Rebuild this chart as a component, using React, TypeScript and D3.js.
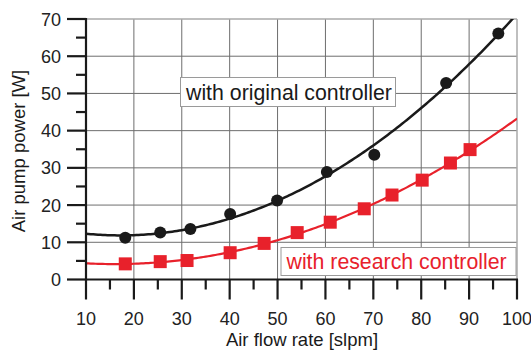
import React from "react";
import * as d3 from "d3";

const origX = [18.2, 25.5, 31.8, 40.1, 49.9, 60.3, 70.2, 85.2, 96.1];
const origY = [11.2, 12.6, 13.6, 17.6, 21.2, 28.9, 33.5, 52.8, 66.1];
const resX = [18.2, 25.5, 31.1, 40.1, 47.2, 54.1, 61.0, 68.1, 73.9, 80.2, 86.1, 90.2];
const resY = [4.2, 4.8, 5.1, 7.2, 9.7, 12.6, 15.4, 19.0, 22.7, 26.7, 31.3, 34.9];
const xTicks = [10, 20, 30, 40, 50, 60, 70, 80, 90, 100];
const yTicks = [0, 10, 20, 30, 40, 50, 60, 70];
const labelOrig = "with original controller";
const labelRes = "with research controller";

function quadFit(xs: number[], ys: number[]) {
  // least squares y = a + b x + c x^2
  const n = xs.length;
  let s = [0, 0, 0, 0, 0];
  let t = [0, 0, 0];
  for (let i = 0; i < n; i++) {
    const x = xs[i], y = ys[i];
    for (let k = 0; k < 5; k++) s[k] += Math.pow(x, k);
    for (let k = 0; k < 3; k++) t[k] += y * Math.pow(x, k);
  }
  const M = [
    [s[0], s[1], s[2], t[0]],
    [s[1], s[2], s[3], t[1]],
    [s[2], s[3], s[4], t[2]],
  ];
  for (let i = 0; i < 3; i++) {
    let p = i;
    for (let r = i + 1; r < 3; r++) if (Math.abs(M[r][i]) > Math.abs(M[p][i])) p = r;
    [M[i], M[p]] = [M[p], M[i]];
    for (let r = 0; r < 3; r++) {
      if (r === i) continue;
      const f = M[r][i] / M[i][i];
      for (let c = i; c < 4; c++) M[r][c] -= f * M[i][c];
    }
  }
  const a = M[0][3] / M[0][0], b = M[1][3] / M[1][1], c = M[2][3] / M[2][2];
  return (x: number) => a + b * x + c * x * x;
}

export default function App() {
  const W = 531, H = 352;
  const left = 86, right = 517, top = 19, bottom = 279.5;
  const x = d3.scaleLinear().domain([10, 100]).range([left, right]);
  const y = d3.scaleLinear().domain([0, 70]).range([bottom, top]);
  const font = "'Liberation Sans', Arial, Helvetica, sans-serif";
  const red = "#e8212b";

  const fo = quadFit(origX, origY);
  const fr = quadFit(resX, resY);
  const xs = d3.range(10, 100.01, 0.5);
  const line = d3
    .line<number[]>()
    .x((d) => x(d[0]))
    .y((d) => y(d[1]));
  const pathO = line(xs.map((v) => [v, fo(v)]));
  const pathR = line(xs.map((v) => [v, fr(v)]));

  const minorX = d3.range(15, 100, 10);
  const minorY = d3.range(5, 70, 10);

  return (
    <svg
      width={W}
      height={H}
      style={{ position: "absolute", left: 0, top: 0, background: "#fff" }}
      fontFamily={font}
    >
      <defs>
        <clipPath id="plotclip">
          <rect x={left} y={top} width={right - left} height={bottom - top} />
        </clipPath>
      </defs>
      {/* grid */}
      {xTicks.slice(1, -1).map((t) => (
        <line key={"gx" + t} x1={x(t)} x2={x(t)} y1={top} y2={bottom} stroke="#6e6e6e" strokeWidth={1} />
      ))}
      {yTicks.slice(1, -1).map((t) => (
        <line key={"gy" + t} x1={left} x2={right} y1={y(t)} y2={y(t)} stroke="#6e6e6e" strokeWidth={1} />
      ))}
      <line x1={left} x2={right} y1={top} y2={top} stroke="#aaa" strokeWidth={1.5} />
      <line x1={right} x2={right} y1={top} y2={bottom} stroke="#aaa" strokeWidth={1.5} />

      {/* curves */}
      <g clipPath="url(#plotclip)">
        <path d={pathO || ""} fill="none" stroke="#1a1a1a" strokeWidth={2.5} />
        <path d={pathR || ""} fill="none" stroke={red} strokeWidth={2.2} />
      </g>

      {/* markers */}
      {origX.map((v, i) => (
        <circle key={"o" + i} cx={x(v)} cy={y(origY[i])} r={6} fill="#1a1a1a" />
      ))}
      {resX.map((v, i) => (
        <rect key={"r" + i} x={x(v) - 6.5} y={y(resY[i]) - 6.5} width={13} height={13} fill={red} />
      ))}

      {/* label boxes */}
      <rect x={180.5} y={77.5} width={215} height={29} fill="#fff" stroke="#9a9a9a" strokeWidth={1} />
      <text x={186} y={99.5} fontSize={21.3} fill="#1a1a1a">{labelOrig}</text>
      <rect x={281} y={247.5} width={235} height={28} fill="#fff" stroke="#9a9a9a" strokeWidth={1} />
      <text x={286.5} y={269} fontSize={21.3} fill={red}>{labelRes}</text>

      {/* axes */}
      <line x1={left} x2={left} y1={top - 1} y2={bottom + 1} stroke="#1a1a1a" strokeWidth={2.2} />
      <line x1={left - 1} x2={right + 1} y1={bottom} y2={bottom} stroke="#1a1a1a" strokeWidth={2.2} />
      {yTicks.map((t) => (
        <g key={"yt" + t}>
          <line x1={left - 19} x2={left} y1={y(t)} y2={y(t)} stroke="#1a1a1a" strokeWidth={2.2} />
          <text x={61} y={y(t) + 6.5} fontSize={18} textAnchor="end" fill="#222">{t}</text>
        </g>
      ))}
      {minorY.map((t) => (
        <line key={"my" + t} x1={left - 10} x2={left} y1={y(t)} y2={y(t)} stroke="#1a1a1a" strokeWidth={2.2} />
      ))}
      {xTicks.map((t) => (
        <g key={"xt" + t}>
          <line x1={x(t)} x2={x(t)} y1={bottom} y2={bottom + 20} stroke="#1a1a1a" strokeWidth={2.2} />
          <text x={x(t)} y={325} fontSize={18} textAnchor="middle" fill="#222">{t}</text>
        </g>
      ))}
      {minorX.map((t) => (
        <line key={"mx" + t} x1={x(t)} x2={x(t)} y1={bottom} y2={bottom + 10} stroke="#1a1a1a" strokeWidth={2.2} />
      ))}

      {/* axis titles */}
      <text x={302} y={346} fontSize={18.5} textAnchor="middle" fill="#1a1a1a">
        Air flow rate [slpm]
      </text>
      <text
        transform={`translate(25, 151) rotate(-90)`}
        fontSize={18.5}
        textAnchor="middle"
        fill="#1a1a1a"
      >
        Air pump power [W]
      </text>
    </svg>
  );
}
